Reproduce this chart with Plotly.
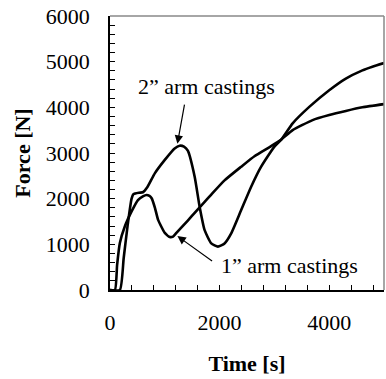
import plotly.graph_objects as go

# 2" arm castings
t_2in = [0, 180, 250, 320, 394, 430, 530, 600, 680, 820, 1000, 1180, 1270, 1350, 1420,
         1545, 1636, 1727, 1848, 1970, 2090, 2212, 2394, 2576, 2758, 3000, 3130, 3333,
         3636, 4000, 4303, 4606, 4788, 5000]
f_2in = [0, 0, 700, 1400, 2000, 2100, 2130, 2140, 2250, 2560, 2850, 3100, 3160, 3140, 3050,
         2480, 1820, 1310, 1020, 950, 1020, 1240, 1750, 2260, 2700, 3140, 3300, 3650,
         4010, 4375, 4630, 4810, 4890, 4970]

# 1" arm castings
t_1in = [0, 90, 130, 180, 270, 394, 510, 600, 667, 720, 760, 820, 880, 1000, 1090, 1150,
         1212, 1420, 1545, 1727, 1848, 2090, 2394, 2636, 2940, 3130, 3333, 3697, 4000,
         4303, 4606, 5000]
f_1in = [0, 0, 550, 1030, 1390, 1720, 1970, 2050, 2080, 2060, 2010, 1800, 1530, 1250, 1160,
         1170, 1250, 1520, 1690, 1930, 2090, 2400, 2700, 2930, 3150, 3300, 3500, 3720, 3830,
         3920, 4000, 4070]

x_tickvals = [0, 2000, 4000]
y_tickvals = [0, 1000, 2000, 3000, 4000, 5000, 6000]

FONT = "Liberation Serif, Times New Roman, serif"

fig = go.Figure()
for t, f in [(t_2in, f_2in), (t_1in, f_1in)]:
    fig.add_trace(go.Scatter(x=t, y=f, mode="lines",
                             line=dict(color="black", width=2.6, shape="spline", smoothing=0.5),
                             showlegend=False, hoverinfo="skip"))

fig.update_layout(
    width=386, height=379,
    margin=dict(l=110, r=2, t=16, b=89),
    paper_bgcolor="white", plot_bgcolor="white",
    font=dict(family=FONT, size=22, color="black"),
    showlegend=False,
)

fig.update_xaxes(
    range=[0, 5000], tickvals=x_tickvals, ticks="inside", ticklen=5, tickwidth=1,
    tickcolor="black", showline=True, linecolor="black", linewidth=1.5,
    showgrid=False, zeroline=False, ticklabelstandoff=12, automargin=False,
    minor=dict(dtick=400, tick0=0, ticks="inside", ticklen=5, tickwidth=1, tickcolor="black"),
    title=dict(text="<b>Time [s]</b>", font=dict(family=FONT, size=22), standoff=21),
)
fig.update_yaxes(
    range=[0, 6000], tickvals=y_tickvals, ticks="inside", ticklen=5, tickwidth=1,
    tickcolor="black", showline=True, linecolor="black", linewidth=1.5,
    showgrid=False, zeroline=False, ticklabelstandoff=14, automargin=False,
    minor=dict(dtick=200, tick0=0, ticks="inside", ticklen=5, tickwidth=1, tickcolor="black"),
    title=dict(text="<b>Force [N]</b>", font=dict(family=FONT, size=22), standoff=9),
)

# gray frame on top and right
fig.add_shape(type="line", xref="paper", yref="paper", x0=0, x1=1, y0=1, y1=1,
              line=dict(color="#888888", width=1.5))
fig.add_shape(type="line", xref="paper", yref="paper", x0=1, x1=1, y0=0, y1=1,
              line=dict(color="#888888", width=1.5))

# labels
fig.add_annotation(x=1764, y=4464, xref="x", yref="y", text="2\u201d arm castings",
                   showarrow=False, font=dict(family=FONT, size=22))
fig.add_annotation(x=3273, y=547, xref="x", yref="y", text="1\u201d arm castings",
                   showarrow=False, font=dict(family=FONT, size=22))
# arrows
fig.add_annotation(x=1230, y=3200, ax=1364, ay=4092, xref="x", yref="y", axref="x", ayref="y",
                   text="", showarrow=True, arrowhead=2, arrowsize=1.4, arrowwidth=1.2,
                   arrowcolor="black")
fig.add_annotation(x=1230, y=1180, ax=1890, ay=610, xref="x", yref="y", axref="x", ayref="y",
                   text="", showarrow=True, arrowhead=2, arrowsize=1.4, arrowwidth=1.2,
                   arrowcolor="black")

fig.write_html("out.html", config={"displayModeBar": False},
               post_script="document.body.style.margin='0';document.body.style.overflow='hidden';")
